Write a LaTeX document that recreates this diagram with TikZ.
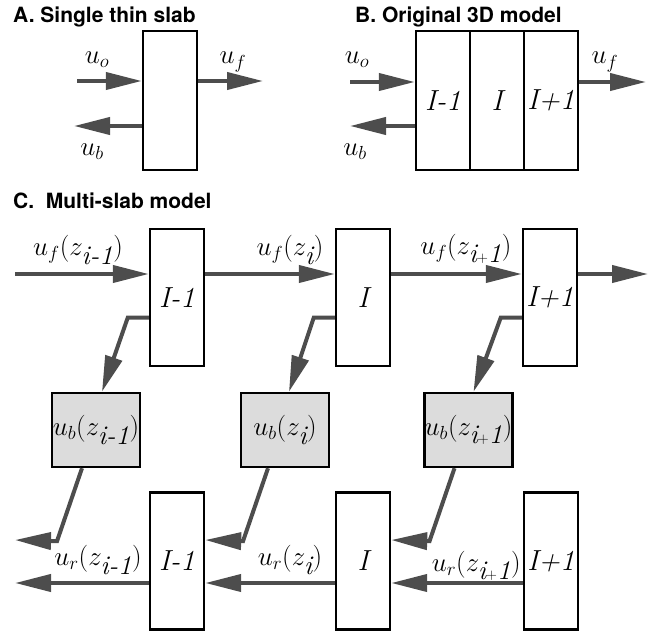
\RequirePackage{fix-cm}
\documentclass[tikz,border=0pt]{standalone}
\usepackage{fontspec}
\newfontfamily\headfont{TeX Gyre Heros}
\usetikzlibrary{arrows.meta}
\definecolor{arrowgray}{HTML}{4D4D4D}
\definecolor{boxgray}{HTML}{DCDCDC}
\newcommand{\ipo}{\textit{i}\scalebox{0.8}{$\scriptstyle+$}\textit{1}}

\begin{document}
\begin{tikzpicture}[x=1pt,y=-1pt,
  slab/.style={draw,line width=2.4pt,minimum width=54pt,minimum height=137pt,inner sep=0pt,font=\itshape\fontsize{29}{31}\selectfont},
  gray box/.style={draw,line width=2.4pt,fill=boxgray,minimum width=88pt,minimum height=74pt,inner sep=0pt,font=\fontsize{27}{29}\selectfont},
  flow/.style={draw=arrowgray,line width=4pt,-{Triangle[length=36pt,width=17pt]}},
  lab/.style={inner sep=0pt,font=\fontsize{27}{29}\selectfont},
  head/.style={anchor=base west,inner sep=0pt,font=\headfont\bfseries\fontsize{21}{24}\selectfont}]
  \useasboundingbox (0,0) rectangle (651,635);

  % A
  \node[head] (ta) at (13,22) {A. Single thin slab};
  \node[slab,minimum height=139pt] (a) at (170,100.5) {};
  \coordinate (ain) at (77,81);
  \coordinate (aback) at (74,126);
  \coordinate (aout) at (263,81);
  \draw[flow] (ain) -- (ain -| a.west);
  \draw[flow] (aback -| a.west) -- (aback);
  \draw[flow] (aout -| a.east) -- (aout);
  \node[lab] (auo) at (97,60) {$u_o$};
  \node[lab] (aub) at (92,152) {$u_b$};
  \node[lab] (auf) at (233,62) {$u_f$};

  % B
  \node[head] (tb) at (355,22) {B. Original 3D model};
  \node[slab,minimum height=139pt] (b1) at (443,100.5) {I-1};
  \node[slab,minimum height=139pt,node distance=54pt] (b2) [right of=b1] {I};
  \node[slab,minimum height=139pt,node distance=54pt] (b3) [right of=b2] {I+1};
  \coordinate (bin) at (350,82);
  \coordinate (bback) at (350,126);
  \coordinate (bout) at (646,82);
  \draw[flow] (bin) -- (bin -| b1.west);
  \draw[flow] (bback -| b1.west) -- (bback);
  \draw[flow] (bout -| b3.east) -- (bout);
  \node[lab] (buo) at (357,60) {$u_o$};
  \node[lab] (bub) at (355,152) {$u_b$};
  \node[lab] (buf) at (605,62) {$u_f$};

  % C
  \node[head] (tc) at (13,208) {C.\ \ Multi-slab model};
  \node[slab] (t1) at (177,297.5) {I-1};
  \node[slab,node distance=186pt] (t2) [right of=t1] {I};
  \node[slab,node distance=187pt] (t3) [right of=t2] {I+1};
  \node[gray box] (g1) at (96,430) {$u_b(z_{\textit{i-1}})$};
  \node[gray box] (g2) at (285,430) {$u_b(z_{\textit{i}})$};
  \node[gray box] (g3) at (468.5,430) {$u_b(z_{\ipo})$};
  \node[slab] (r1) at (177,561) {I-1};
  \node[slab,node distance=186pt] (r2) [right of=r1] {I};
  \node[slab,node distance=188pt] (r3) [right of=r2] {I+1};

  \coordinate (fin) at (15,274);
  \coordinate (fout) at (648,274);
  \coordinate (rhi) at (15,540);
  \coordinate (rlo) at (15,583);

  \draw[flow] (fin) -- (fin -| t1.west);
  \draw[flow] (fin -| t1.east) -- (fin -| t2.west);
  \draw[flow] (fin -| t2.east) -- (fin -| t3.west);
  \draw[flow] (fin -| t3.east) -- (fout);

  \draw[flow] ([yshift=-20pt]t1.west) -- ++(-21,0) -- ([xshift=6pt]g1.north);
  \draw[flow] ([yshift=-20pt]t2.west) -- ++(-21,0) -- ([xshift=4pt]g2.north);
  \draw[flow] ([yshift=-20pt]t3.west) -- ++(-21,0) -- ([xshift=5pt]g3.north);

  \draw[flow] ([xshift=-14pt]g1.south) -- ++(-25,73) -- (rhi);
  \draw[flow] ([xshift=-17pt]g2.south) -- ++(-25,73) -- (rhi -| r1.east);
  \draw[flow] ([xshift=-14pt]g3.south) -- ++(-25,73) -- (rhi -| r2.east);

  \draw[flow] (rlo -| r3.west) -- (rlo -| r2.east);
  \draw[flow] (rlo -| r2.west) -- (rlo -| r1.east);
  \draw[flow] (rlo -| r1.west) -- (rlo);

  \node[lab] (lf1) at (78,250) {$u_f(z_{\textit{i-1}})$};
  \node[lab] (lf2) at (290,250) {$u_f(z_{\textit{i}})$};
  \node[lab] (lf3) at (466,249) {$u_f(z_{\ipo})$};
  \node[lab] (lr1) at (98,560) {$u_r(z_{\textit{i-1}})$};
  \node[lab] (lr2) at (290,560) {$u_r(z_{\textit{i}})$};
  \node[lab,anchor=east] (lr3) at ([xshift=-2pt,yshift=-5pt]r3.west) {$u_r(z_{\ipo})$};
\end{tikzpicture}
\end{document}
